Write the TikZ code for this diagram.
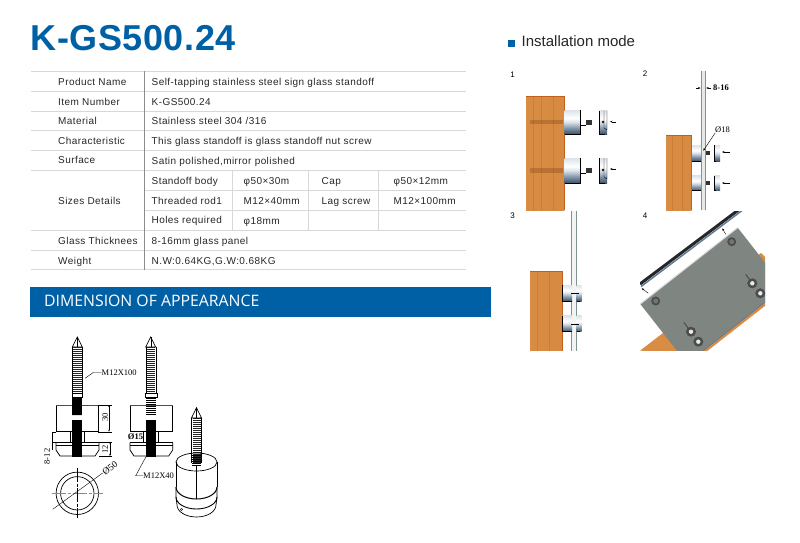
\documentclass[tikz,border=0pt]{standalone}
\usepackage{fontspec}
\setmainfont{Liberation Sans}
\newfontfamily\bannerfont{Open Sans}
\newfontfamily\dimfont{Liberation Serif}
\newfontfamily\cellfont[LetterSpace=4.3]{Liberation Sans}
\newfontfamily\titlefont[LetterSpace=1.5]{Liberation Sans}
\usetikzlibrary{positioning}
\usetikzlibrary{arrows.meta}
\definecolor{brandblue}{HTML}{0060A5}
\definecolor{rulegrey}{HTML}{D8D8D8}
\definecolor{woodmid}{HTML}{DB9148}
\definecolor{woodedge}{HTML}{C0601C}
\definecolor{slate}{HTML}{5F7A95}
\definecolor{barreldark}{HTML}{3F5266}
\definecolor{barrelmid}{HTML}{7F94A9}
\definecolor{barrellight}{HTML}{DDE3E9}
\definecolor{glassedge}{HTML}{7E9488}
\definecolor{plategrey}{HTML}{7F8580}
\pgfdeclareverticalshading{barrelshade}{100bp}{
    color(0bp)=(barreldark);
    color(25bp)=(barreldark);
    color(37bp)=(barrelmid);
    color(50bp)=(barrellight);
    color(58bp)=(white);
    color(75bp)=(barrellight);
    color(100bp)=(barrellight)}

\begin{document}
\begin{tikzpicture}[
        x=1pt, y=-1pt,
        cell/.style = {
            anchor=base west,
            inner sep=0pt,
            text=black!85,
            font=\cellfont\fontsize{10}{11}\selectfont
        },
        tablerule/.style = {rulegrey, line width=1pt},
        dim/.style = {
            inner sep=0pt,
            font=\dimfont\fontsize{8.5}{10}\selectfont
        },
        panelno/.style = {
            inner sep=0pt,
            font=\fontsize{8}{10}\selectfont
        },
        outline/.style = {black, line width=0.7pt},
        thin line/.style = {black, line width=0.4pt},
        thread/.style = {black, line width=#1, dash pattern=on 1.3pt off 0.7pt},
        thread/.default = 9pt,
        bodythread/.style = {black, line width=#1, dash pattern=on 1.7pt off 0.3pt},
        bodythread/.default = 10pt,
        wood/.style = {
            left color=woodmid!90!woodedge,
            middle color=woodmid!80!yellow,
            right color=woodmid!85!woodedge
        },
        grain/.style = {woodedge, opacity=0.35, line width=1pt},
        barrel/.style = {shading=barrelshade},
        tick/.style = {-{Stealth[length=2.5pt,width=2pt]}, black, line width=0.4pt},
        ]
        \useasboundingbox (0,0) rectangle (800,543);
%
        \node[anchor=base west, inner sep=0pt, text=brandblue,
              font=\titlefont\fontsize{36}{40}\selectfont\bfseries] (title) at (30.5,50.7) {K-GS500.24};
%
% table rules
        \draw[tablerule] (31,71) -- (466,71);
        \draw[tablerule] (31,91) -- (466,91);
        \draw[tablerule] (31,111) -- (466,111);
        \draw[tablerule] (31,130.5) -- (466,130.5);
        \draw[tablerule] (31,150.5) -- (466,150.5);
        \draw[tablerule] (31,170.5) -- (466,170.5);
        \draw[tablerule] (144,190.5) -- (466,190.5);
        \draw[tablerule] (144,210.5) -- (466,210.5);
        \draw[tablerule] (31,230.5) -- (466,230.5);
        \draw[tablerule] (31,250) -- (466,250);
        \draw[tablerule] (31,269.5) -- (466,269.5);
        \draw[black!45, line width=0.8pt] (144,71) -- (144,269.5);
        \draw[tablerule] (232,170.5) -- (232,230.5);
        \draw[tablerule] (308,170.5) -- (308,230.5);
        \draw[tablerule] (378,170.5) -- (378,230.5);
%
% table text
        \node[cell] (name) at (58,85) {Product Name};
        \node[cell] (nameval) at (151.5,85) {Self-tapping stainless steel sign glass standoff};
        \node[cell] (item) at (58,105) {Item Number};
        \node[cell] (itemval) at (151.5,105) {K-GS500.24};
        \node[cell] (mat) at (58,124) {Material};
        \node[cell] (matval) at (151.5,124) {Stainless steel 304 /316};
        \node[cell] (char) at (58,144) {Characteristic};
        \node[cell] (charval) at (151.5,144) {This glass standoff is glass standoff nut screw};
        \node[cell] (surf) at (58,163.5) {Surface};
        \node[cell] (surfval) at (151.5,164) {Satin polished,mirror polished};
        \node[cell] (sizes) at (58,204) {Sizes Details};
        \node[cell] (body) at (151.5,184) {Standoff body};
        \node[cell] (bodyval) at (243.5,184) {φ50×30m};
        \node[cell] (cap) at (321.5,184) {Cap};
        \node[cell] (capval) at (393.5,184) {φ50×12mm};
        \node[cell] (rod) at (151.5,204) {Threaded rod1};
        \node[cell] (rodval) at (243.5,204) {M12×40mm};
        \node[cell] (lag) at (321.5,204) {Lag screw};
        \node[cell] (lagval) at (393.5,204.5) {M12×100mm};
        \node[cell] (holes) at (151.5,223) {Holes required};
        \node[cell] (holesval) at (243.5,224) {φ18mm};
        \node[cell] (glass) at (58,244) {Glass Thicknees};
        \node[cell] (glassval) at (151.5,244) {8-16mm glass panel};
        \node[cell] (weight) at (58,264) {Weight};
        \node[cell] (weightval) at (151.5,264) {N.W:0.64KG,G.W:0.68KG};
%
% banner
        \fill[brandblue] (30,287) rectangle (491,317);
        \node[anchor=base west, inner sep=0pt, text=white,
              font=\bannerfont\fontsize{15.8}{17}\selectfont] (banner) at (44,306.7) {DIMENSION OF APPEARANCE};
%
% front view, left
        \draw[outline] (72.3,347) -- (77.3,337) -- (82.3,347) -- cycle;
        \draw[thin line] (77.3,337) -- (77.3,347);
        \draw[thread=9pt, black!85] (77.3,347) -- (77.3,393);
        \draw[thin line] (72.3,347) -- (72.3,397) -- (82.3,397) -- (82.3,347);
        \draw[thin line] (72.3,393) -- (82.3,393);
        \draw[outline] (56,405) rectangle (98.3,431.7);
        \draw[line width=1pt, black!70] (56,405) -- (98.3,405);
        \draw[outline] (70.7,431.7) -- (70.7,441.7);
        \draw[outline] (84,431.7) -- (84,441.7);
        \draw[outline] (56,442.7) -- (99,442.7);
        \draw[outline] (56,445) -- (99,445);
        \draw[outline] (56,442.7) -- (56,450) -- (60,456) -- (95,456) -- (99,450) -- (99,442.7);
        \draw[bodythread] (77.3,397) -- (77.3,415);
        \draw[bodythread] (77.3,420) -- (77.3,457);
%
        \draw[thin line] (98.3,405) -- (112,405);
        \draw[thin line] (98.3,431.7) -- (112,431.7);
        \draw[thin line, <->, >={Stealth[length=2pt,width=1.5pt]}] (109,405) -- (109,431.7);
        \node[dim, rotate=90] (dimbody) at (105,417.5) {30};
        \draw[thin line] (99,441.7) -- (112,441.7);
        \draw[thin line] (99,456) -- (112,456);
        \draw[thin line, <->, >={Stealth[length=2pt,width=1.5pt]}] (110,441.7) -- (110,456);
        \node[dim, rotate=90] (dimcap) at (105,449) {12};
        \draw[thin line] (56,431.7) -- (51.7,431.7) -- (51.7,441.7) -- (56,441.7);
        \draw[thin line] (51.7,441.7) -- (51.7,450);
        \node[dim, rotate=90] (dimgap) at (47,456.5) {8-12};
%
        \node[dim, anchor=west] (longscrew) at (101.5,372.5) {M12X100};
        \coordinate (longfoot) at (85,378.3);
        \draw[thin line] (longfoot) -- (93.3,372.5) -- (longscrew.west);
%
% front view, right
        \draw[outline] (145.7,347) -- (150.7,337) -- (155.7,347) -- cycle;
        \draw[thin line] (150.7,337) -- (150.7,347);
        \draw[thread=9pt, black!85] (150.7,347) -- (150.7,393);
        \draw[thin line] (145.7,347) -- (145.7,393);
        \draw[thin line] (155.7,347) -- (155.7,393);
        \draw[thin line] (145,393) rectangle (156.7,397.5);
        \draw[outline] (130,405) rectangle (172.7,431.7);
        \draw[line width=1pt, black!70] (130,405) -- (172.7,405);
        \draw[outline] (143.5,431.7) -- (143.5,441.7);
        \draw[outline] (158,431.7) -- (158,441.7);
        \draw[outline] (130,442.7) -- (172.7,442.7);
        \draw[outline] (130,445) -- (172.7,445);
        \draw[outline] (130,442.7) -- (130,450) -- (134,456) -- (168.7,456) -- (172.7,450) -- (172.7,442.7);
        \draw[bodythread] (150.7,397.5) -- (150.7,415);
        \draw[bodythread] (150.7,420) -- (150.7,457);
        \node[dim, font=\dimfont\fontsize{8.5}{10}\selectfont\bfseries, fill=white, inner xsep=0.2pt] (boreph) at (135.5,437) {Ø15};
%
        \node[dim, anchor=west] (shortscrew) at (143,475.7) {M12X40};
        \coordinate (shortfoot) at (146,456.7);
        \draw[thin line] (shortfoot) -- (135.7,475.7) -- (shortscrew.west);
%
% plan view
        \draw[outline] (77.3,493.3) circle [radius=21.2pt];
        \draw[outline] (77.3,493.3) circle [radius=16.7pt];
        \draw[black!45, line width=1pt, dash pattern=on 14pt off 2pt on 3pt off 2pt] (51.7,493.3) -- (103.3,493.3);
        \draw[thin line, dash pattern=on 14pt off 1.5pt on 3pt off 1.5pt] (77.3,468) -- (77.3,518);
        \draw[thin line] (52.7,509.3) -- (102.7,473);
        \node[dim, rotate=38, font=\dimfont\fontsize{9.5}{10}\selectfont] (outerph) at (110,468) {Ø50};
%
% perspective view
        \draw[thread=8pt, black!85] (196.5,418) -- (196.5,463);
        \draw[outline] (191.5,418) -- (196.5,407.7) -- (201.5,418) -- cycle;
        \draw[thin line] (196.5,407.7) -- (196.5,418);
        \draw[thin line] (191.5,418) -- (191.5,463);
        \draw[thin line] (201.5,418) -- (201.5,463);
        \draw[outline] (196.5,462) ellipse [x radius=20.5pt, y radius=9pt];
        \draw[thread=9pt] (196.5,455) -- (196.5,466);
        \draw[outline] (176,462) -- (176,487);
        \draw[outline] (217,462) -- (217,487);
        \draw[thin line] (196.5,466) -- (196.5,499);
        \draw[line width=1pt] (176,487) arc [start angle=180, end angle=360, x radius=20.5pt, y radius=12pt];
        \draw[line width=0.9pt] (176,487) -- (176,497) arc [start angle=180, end angle=360, x radius=20.5pt, y radius=12pt] -- (217,487);
        \draw[outline] (176,497) -- (177,505) arc [start angle=180, end angle=360, x radius=19.5pt, y radius=12pt] -- (217,497);
        \draw[thin line] (181.5,509.5) circle [radius=1.2pt];
%
% installation heading
        \fill[brandblue] (508,40) rectangle (514.5,46.7);
        \node[anchor=base west, inner sep=0pt, text=black!85,
              font=\fontsize{15}{16}\selectfont] (mode) at (521.5,46.7) {Installation mode};
%
% panel 1
        \node[panelno] (no1) at (512.7,75) {1};
        \shade[wood] (526,96) rectangle (564.3,210);
        \draw[grain] (533,96) -- (533,210);
        \draw[grain] (541,96) -- (541,210);
        \draw[grain] (553,96) -- (553,210);
        \draw[woodedge, line width=0.8pt] (564.3,96) -- (564.3,210);
        \draw[woodedge, line width=0.6pt] (526,96) -- (564.3,96);
        \fill[woodedge!60!black, opacity=0.3] (530,119.5) rectangle (563,124);
        \fill[woodedge!60!black, opacity=0.3] (530,167.5) rectangle (563,172.5);
        \shade[barrel] (564.5,110) rectangle (580,134);
        \draw[outline] (564.5,134) -- (580,134) -- (580,110);
        \shade[barrel] (564.5,158) rectangle (580,183);
        \draw[outline] (564.5,183) -- (580,183) -- (580,158);
        \draw[outline] (580,125) -- (586,125);
        \fill[black!80] (586,119.5) rectangle (592,125);
        \draw[outline] (580,173) -- (586,173);
        \fill[black!80] (586,167.5) rectangle (592,173);
        \shade[barrel] (599,110.7) rectangle (607,134);
        \draw[thin line] (604.5,134) -- (599,134) -- (599,110.7);
        \draw[thin line] (604,110.7) -- (604,128) -- (607,130) -- (607,110.7);
        \draw[thin line] (603,122) circle [radius=1pt];
        \shade[barrel] (599,158) rectangle (607,183);
        \draw[thin line] (604.5,183) -- (599,183) -- (599,158);
        \draw[thin line] (604,158) -- (604,177) -- (607,179) -- (607,158);
        \draw[thin line] (603,170) circle [radius=1pt];
        \draw[tick] (616,121.7) -- (610,121.7);
        \draw[tick] (616,169) -- (610,169);
%
% panel 2
        \node[panelno] (no2) at (645,74) {2};
        \shade[wood] (666,135.7) rectangle (691.7,210);
        \draw[grain] (672,135.7) -- (672,210);
        \draw[grain] (682,135.7) -- (682,210);
        \draw[woodedge, line width=0.6pt] (666,135.7) -- (691.7,135.7) -- (691.7,210);
        \fill[white!80!glassedge] (701,71) rectangle (705.7,210);
        \draw[glassedge, line width=0.8pt] (701,71) -- (701,210);
        \draw[glassedge, line width=0.8pt] (705.7,71) -- (705.7,210);
        \shade[barrel] (692,145) rectangle (701,161);
        \draw[outline] (692,161) -- (701,161);
        \shade[barrel] (692,175.7) rectangle (701,190.7);
        \draw[outline] (692,190.7) -- (701,190.7);
        \fill[black!80] (705.7,150.7) rectangle (709.7,155);
        \fill[black!80] (705.7,181) rectangle (709.7,185);
        \shade[barrel] (714,145) rectangle (720,161);
        \draw[outline] (716,161) -- (714,161) -- (714,145);
        \shade[barrel] (714,175.7) rectangle (720,190.7);
        \draw[outline] (716,190.7) -- (714,190.7) -- (714,175.7);
        \draw[tick] (730,152) -- (722,152);
        \draw[tick] (730,183) -- (722,183);
        \draw[tick] (696,88) -- (700.5,88);
        \draw[tick] (711,88) -- (706.2,88);
        \node[dim, anchor=west, font=\dimfont\fontsize{8.5}{10}\selectfont\bfseries] (gap) at (713,88) {8-16};
        \node[dim, anchor=west] (holeph) at (715,130) {Ø18};
        \coordinate (holefoot) at (703.3,150.7);
        \draw[tick] (holeph.south west) -- (holefoot);
%
% panel 3
        \node[panelno] (no3) at (512.7,216) {3};
        \shade[wood] (530,271.7) rectangle (562,350.7);
        \draw[grain] (537,271.7) -- (537,350.7);
        \draw[grain] (549,271.7) -- (549,350.7);
        \draw[woodedge, line width=0.6pt] (530,271.7) -- (562,271.7) -- (562,350.7);
        \fill[white!90!glassedge] (571.7,211) rectangle (576.3,350.7);
        \draw[glassedge, line width=0.8pt] (571.7,211) -- (571.7,350.7);
        \draw[glassedge, line width=0.8pt] (576.3,211) -- (576.3,350.7);
        \shade[barrel] (562.5,285) rectangle (572,301);
        \draw[outline] (562.5,285) -- (562.5,301) -- (572,301);
        \shade[barrel] (562.5,315.7) rectangle (572,331.7);
        \draw[outline] (562.5,315.7) -- (562.5,331.7) -- (572,331.7);
        \shade[barrel] (576.5,285) rectangle (581.7,301);
        \draw[outline] (576.5,301) -- (580,301);
        \shade[barrel] (576.5,315.7) rectangle (581.7,331.7);
        \draw[outline] (576.5,331.7) -- (580,331.7);
        \draw[outline] (571,293) -- (579,293);
        \draw[outline] (571,324) -- (579,324);
%
% panel 4
        \node[panelno] (no4) at (645,216) {4};
        \begin{scope}
        \clip (640,211) rectangle (765,350.7);
        \fill[woodmid!90!woodedge] (640,350.7) -- (663,333) -- (761,253) -- (770,262) -- (770,302) -- (706,352) -- cycle;
        \fill[plategrey] (737.7,227.7) -- (640.3,304) -- (686.9,363.5) -- (784.3,287.2) -- cycle;
        \draw[white!70!plategrey, line width=1pt] (737.7,227.7) -- (640.3,304);
        \draw[slate, line width=0.7pt] (686.9,363.5) -- (784.3,287.2);
        \draw[black!85, line width=3pt] (640,284) -- (741,208);
        \draw[slate, line width=1.5pt] (641,286.5) -- (742,210.5);
        \draw[tick] (725.7,234.3) -- (722.3,228.3);
        \draw[tick] (648.3,293.3) -- (641.7,288.3);
        \draw[black!70, line width=1pt] (745.7,274.3) -- (752.3,283.3);
        \draw[black!70, line width=1pt] (683.7,322.3) -- (691,331.7);
        \fill[black!70] (731.7,241.7) circle [radius=4.5pt];
        \fill[black!55] (731.7,241.7) circle [radius=2.5pt];
        \fill[black!70] (655.7,301) circle [radius=4.5pt];
        \fill[black!55] (655.7,301) circle [radius=2.5pt];
        \fill[black!70] (752.3,283.3) circle [radius=5pt];
        \fill[white!85!slate] (752.3,283.3) circle [radius=2.2pt];
        \fill[black!70] (760.3,293.3) circle [radius=5pt];
        \fill[white!85!slate] (760.3,293.3) circle [radius=2.2pt];
        \fill[black!70] (691,331.7) circle [radius=5pt];
        \fill[white!85!slate] (691,331.7) circle [radius=2.2pt];
        \fill[black!70] (698.3,341.7) circle [radius=5pt];
        \fill[white!85!slate] (698.3,341.7) circle [radius=2.2pt];
        \end{scope}
\end{tikzpicture}
\end{document}
